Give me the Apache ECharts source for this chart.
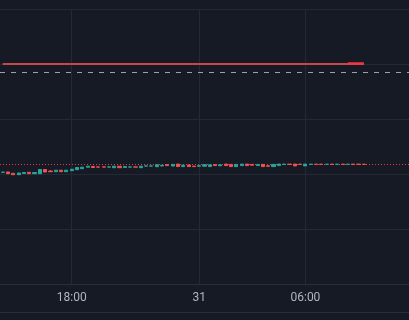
<!DOCTYPE html>
<html>
<head>
<meta charset="utf-8">
<style>
html,body{margin:0;padding:0;background:#161a25;}
#chart{width:409px;height:320px;}
</style>
<script src="https://cdn.jsdelivr.net/npm/echarts@6/dist/echarts.min.js"></script>
</head>
<body>
<div id="chart"></div>
<script>
// candles: [open, close, low, high]
const candles = [
  [11.17,11.19,11.16,11.20],[11.20,11.03,11.02,11.21],[11.07,10.93,10.92,11.08],[10.93,11.10,10.92,11.11],
  [11.05,11.15,11.04,11.20],[11.17,11.03,11.02,11.20],[11.03,11.15,11.02,11.20],[11.03,11.45,11.02,11.50],
  [11.45,11.20,11.19,11.50],[11.30,11.23,11.22,11.37],[11.23,11.38,11.22,11.40],[11.38,11.23,11.22,11.40],
  [11.23,11.38,11.22,11.40],[11.33,11.48,11.32,11.50],[11.43,11.65,11.42,11.67],[11.53,11.68,11.52,11.70],
  [11.68,11.78,11.67,11.80],[11.75,11.65,11.63,11.77],[11.71,11.69,11.68,11.72],[11.71,11.69,11.68,11.72],
  [11.69,11.71,11.68,11.72],[11.63,11.78,11.62,11.80],[11.78,11.63,11.62,11.80],[11.66,11.74,11.65,11.77],
  [11.69,11.71,11.68,11.72],[11.71,11.69,11.68,11.72],[11.63,11.78,11.62,11.80],[11.79,11.81,11.78,11.82],
  [11.79,11.81,11.78,11.82],[11.73,11.93,11.72,11.94],[11.80,11.88,11.79,11.90],[11.93,11.84,11.83,12.00],
  [11.80,11.96,11.79,11.97],[11.99,11.74,11.73,12.00],[11.74,11.88,11.73,11.97],[11.90,11.74,11.73,11.93],
  [11.79,11.74,11.73,11.80],[11.78,11.83,11.77,11.84],[11.78,11.93,11.77,11.94],[11.74,11.92,11.73,11.94],
  [11.93,11.84,11.83,12.00],[11.82,11.92,11.80,11.97],[11.99,11.84,11.83,12.00],[11.96,11.74,11.73,11.97],
  [11.74,11.96,11.73,11.97],[11.84,11.99,11.83,12.00],[11.99,11.84,11.83,12.00],[11.96,11.88,11.87,11.97],
  [11.84,11.96,11.83,11.97],[11.96,11.74,11.73,11.97],[11.82,11.77,11.76,11.83],[11.74,11.96,11.73,11.97],
  [11.84,11.99,11.83,12.00],[11.95,11.99,11.94,12.00],[11.99,11.95,11.94,12.00],[11.99,11.81,11.80,12.00],
  [11.98,11.96,11.95,11.99],[11.81,11.99,11.80,12.00],[11.96,11.98,11.95,11.99],[11.98,11.96,11.95,11.99],
  [11.98,11.96,11.95,11.99],[11.96,11.98,11.95,11.99],[11.98,11.96,11.95,11.99],[11.96,11.98,11.95,11.99],
  [11.98,11.96,11.95,11.99],[11.96,11.98,11.95,11.99],[11.98,11.96,11.95,11.99],[11.98,11.96,11.95,11.99],
  [11.98,11.96,11.95,11.99]
];
const slotCount = 77;                 // visible bar slots on the time scale
const tickIdx = [13, 37, 57];
const tickText = ['18:00', '31', '06:00'];
const levelPrice = 22.05;             // solid red level
const levelHighlightFrom = 65;        // brighter end segment starts here
const dashedPrice = 21.17;            // grey dashed line
const lastPrice = 11.97;              // red dotted line

const categories = Array.from({length: slotCount}, (_, i) => String(i));
const lastIdx = candles.length - 1;

const chart = echarts.init(document.getElementById('chart'), null, {renderer: 'canvas'});
chart.setOption({
  backgroundColor: '#161a25',
  animation: false,
  grid: {left: 0, right: 0, top: 9, bottom: 36},
  xAxis: {
    type: 'category',
    data: categories,
    boundaryGap: true,
    axisLine: {show: true, lineStyle: {color: '#2a2e39', width: 1}},
    axisTick: {show: false},
    splitLine: {show: false},
    axisLabel: {
      interval: (i) => tickIdx.includes(i),
      formatter: (v, i) => { const k = tickIdx.indexOf(Number(v)); return k >= 0 ? tickText[k] : ''; },
      color: '#b2b5be',
      fontFamily: 'Roboto, "Noto Sans", sans-serif',
      fontSize: 12,
      margin: 8
    }
  },
  yAxis: {
    type: 'value',
    min: 0, max: 27.5, interval: 5.5,
    position: 'right',
    axisLine: {show: false},
    axisTick: {show: false},
    axisLabel: {show: false},
    splitLine: {show: true, lineStyle: {color: '#252935', width: 1}}
  },
  graphic: [{type: 'rect', shape: {x: 0, y: 312, width: 409, height: 1}, style: {fill: '#2a2e39'}, silent: true}],
  series: [
    {
      type: 'line', data: [], silent: true,
      markLine: {
        silent: true, symbol: 'none', z: 1, animation: false,
        label: {show: false},
        data: tickIdx.map(i => ({xAxis: categories[i], lineStyle: {color: '#252935', width: 1, type: 'solid'}}))
      }
    },
    {
      type: 'candlestick',
      data: candles,
      barWidth: '68%',
      itemStyle: {
        color: '#26a69a', color0: '#ef5350',
        borderColor: '#26a69a', borderColor0: '#ef5350', borderWidth: 1
      },
      markLine: {
        silent: true, symbol: 'none', z: 1, animation: false,
        label: {show: false},
        data: [
          {yAxis: lastPrice, lineStyle: {color: '#f23645', width: 1, type: [1, 2]}},
          {yAxis: dashedPrice, lineStyle: {color: '#9ea1a9', width: 1, type: [5, 6]}},
          [{coord: [categories[0], levelPrice], lineStyle: {color: '#c8474b', width: 2, type: 'solid'}},
           {coord: [categories[lastIdx], levelPrice]}],
          [{coord: [categories[levelHighlightFrom], levelPrice], lineStyle: {color: '#f23645', width: 2.5, type: 'solid'}},
           {coord: [categories[lastIdx], levelPrice]}]
        ]
      }
    }
  ]
});
</script>
</body>
</html>
